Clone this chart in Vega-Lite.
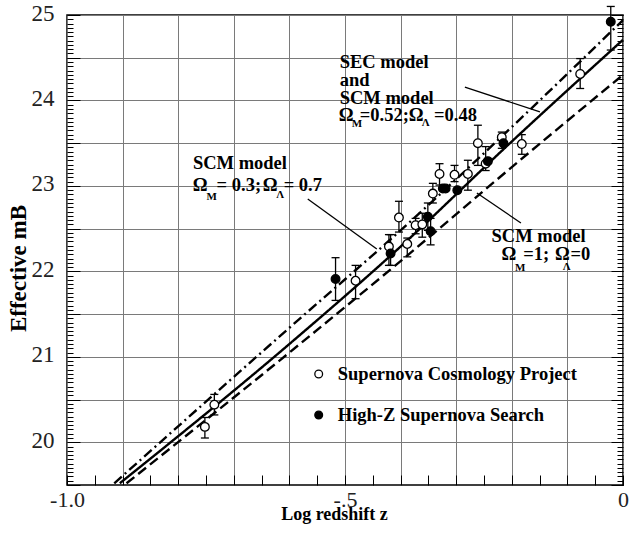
{
  "$schema": "https://vega.github.io/schema/vega-lite/v6.json",
  "width": 556,
  "height": 470,
  "autosize": {"type": "none"},
  "padding": {"left": 67, "top": 15, "right": 8, "bottom": 48},
  "background": "white",
  "config": {
    "view": {"stroke": "black", "strokeWidth": 1.5},
    "axis": {"domain": false, "labelFont": "Liberation Serif", "titleFont": "Liberation Serif", "tickColor": "black", "tickWidth": 1, "labelColor": "#222", "titleColor": "black"}
  },
  "datasets": {
    "models": [
      {"model": "solid", "x": -0.905, "y": 19.52},
      {"model": "solid", "x": -0.6, "y": 21.15},
      {"model": "solid", "x": -0.4, "y": 22.29},
      {"model": "solid", "x": -0.2, "y": 23.52},
      {"model": "solid", "x": 0, "y": 24.71},
      {"model": "dashed", "x": -0.893, "y": 19.52},
      {"model": "dashed", "x": -0.6, "y": 21.05},
      {"model": "dashed", "x": -0.4, "y": 22.12},
      {"model": "dashed", "x": -0.2, "y": 23.22},
      {"model": "dashed", "x": 0, "y": 24.30},
      {"model": "dashdot", "x": -0.915, "y": 19.52},
      {"model": "dashdot", "x": -0.6, "y": 21.34},
      {"model": "dashdot", "x": -0.4, "y": 22.48},
      {"model": "dashdot", "x": -0.2, "y": 23.69},
      {"model": "dashdot", "x": 0, "y": 24.94}
    ],
    "sn": [
      {"series": "SCP", "x": -0.752, "y": 20.18, "lo": 20.05, "hi": 20.29},
      {"series": "SCP", "x": -0.735, "y": 20.44, "lo": 20.32, "hi": 20.56},
      {"series": "HZS", "x": -0.517, "y": 21.91, "lo": 21.66, "hi": 22.16},
      {"series": "SCP", "x": -0.481, "y": 21.89, "lo": 21.68, "hi": 22.07},
      {"series": "SCP", "x": -0.421, "y": 22.29, "lo": 22.07, "hi": 22.43},
      {"series": "HZS", "x": -0.418, "y": 22.21, "lo": 22.07, "hi": 22.43},
      {"series": "SCP", "x": -0.403, "y": 22.63, "lo": 22.46, "hi": 22.82},
      {"series": "SCP", "x": -0.388, "y": 22.32, "lo": 22.17, "hi": 22.39},
      {"series": "SCP", "x": -0.373, "y": 22.54, "lo": 22.44, "hi": 22.62},
      {"series": "SCP", "x": -0.361, "y": 22.55, "lo": 22.40, "hi": 22.68},
      {"series": "HZS", "x": -0.351, "y": 22.64, "lo": 22.48, "hi": 22.80},
      {"series": "HZS", "x": -0.346, "y": 22.47, "lo": 22.31, "hi": 22.62},
      {"series": "SCP", "x": -0.342, "y": 22.91, "lo": 22.80, "hi": 23.03},
      {"series": "SCP", "x": -0.330, "y": 23.14, "lo": 23.01, "hi": 23.26},
      {"series": "HZS", "x": -0.324, "y": 22.97, "lo": null, "hi": null},
      {"series": "HZS", "x": -0.319, "y": 22.97, "lo": null, "hi": null},
      {"series": "SCP", "x": -0.303, "y": 23.13, "lo": 23.05, "hi": 23.24},
      {"series": "HZS", "x": -0.298, "y": 22.95, "lo": null, "hi": null},
      {"series": "SCP", "x": -0.279, "y": 23.14, "lo": 22.95, "hi": 23.30},
      {"series": "SCP", "x": -0.261, "y": 23.50, "lo": 23.24, "hi": 23.71},
      {"series": "SCP", "x": -0.247, "y": 23.26, "lo": 23.18, "hi": 23.46},
      {"series": "HZS", "x": -0.243, "y": 23.29, "lo": null, "hi": null},
      {"series": "SCP", "x": -0.218, "y": 23.57, "lo": 23.44, "hi": 23.63},
      {"series": "HZS", "x": -0.215, "y": 23.50, "lo": null, "hi": null},
      {"series": "SCP", "x": -0.182, "y": 23.49, "lo": 23.37, "hi": 23.60},
      {"series": "SCP", "x": -0.077, "y": 24.31, "lo": 24.14, "hi": 24.49},
      {"series": "HZS", "x": -0.022, "y": 24.92, "lo": 24.59, "hi": 25.10}
    ],
    "legend": [
      {"series": "SCP", "label": "Supernova Cosmology Project", "x": -0.5473, "y": 20.799, "tx": -0.513},
      {"series": "HZS", "label": "High-Z Supernova Search", "x": -0.5473, "y": 20.319, "tx": -0.513}
    ],
    "pointers": [
      {"id": "sec", "x": -0.2844, "y": 24.157},
      {"id": "sec", "x": -0.1494, "y": 23.865},
      {"id": "scm03", "x": -0.567, "y": 22.847},
      {"id": "scm03", "x": -0.4428, "y": 22.262},
      {"id": "scm1", "x": -0.2628, "y": 22.917},
      {"id": "scm1", "x": -0.1836, "y": 22.566}
    ],
    "notes": [
      {"text": "SEC model", "x": -0.5095, "y": 24.45},
      {"text": "and", "x": -0.5095, "y": 24.239},
      {"text": "SCM model", "x": -0.5095, "y": 24.029},
      {"text": "Ω", "x": -0.5113, "y": 23.83},
      {"text": "=0.52;", "x": -0.4734, "y": 23.83},
      {"text": "Ω", "x": -0.3853, "y": 23.83},
      {"text": "=0.48", "x": -0.340, "y": 23.83},
      {"text": "SCM model", "x": -0.7735, "y": 23.264},
      {"text": "Ω", "x": -0.774, "y": 23.011},
      {"text": "= 0.3;", "x": -0.7309, "y": 23.011},
      {"text": "Ω", "x": -0.6481, "y": 23.011},
      {"text": "= 0.7", "x": -0.6103, "y": 23.011},
      {"text": "SCM model", "x": -0.2364, "y": 22.414},
      {"text": "Ω", "x": -0.2184, "y": 22.2},
      {"text": "=1;", "x": -0.1795, "y": 22.2},
      {"text": "Ω", "x": -0.1224, "y": 22.2},
      {"text": "=0", "x": -0.0945, "y": 22.2}
    ],
    "subs": [
      {"text": "M", "x": -0.4878, "y": 23.73},
      {"text": "Λ", "x": -0.3618, "y": 23.74},
      {"text": "M", "x": -0.7489, "y": 22.87},
      {"text": "Λ", "x": -0.6238, "y": 22.89},
      {"text": "M", "x": -0.1944, "y": 22.04},
      {"text": "Λ", "x": -0.1085, "y": 22.05}
    ]
  },
  "resolve": {"axis": {"x": "independent", "y": "independent"}},
  "layer": [
    {
      "data": {"name": "models"},
      "mark": {"type": "line", "strokeWidth": 2.4, "color": "black", "interpolate": "monotone"},
      "encoding": {
        "x": {"field": "x", "type": "quantitative", "scale": {"domain": [-1, 0], "nice": false, "zero": false},
          "axis": {"orient": "bottom", "values": [-1, -0.9, -0.8, -0.7, -0.6, -0.5, -0.4, -0.3, -0.2, -0.1, 0], "grid": true, "gridColor": "#7a7a7a", "gridWidth": 1, "ticks": false,
            "labelExpr": "datum.value == -1 ? '-1.0' : datum.value == -0.5 ? '-.5' : datum.value == 0 ? '0' : ''",
            "labelFontSize": 22, "labelFlush": false, "labelOverlap": false, "labelBound": false, "labelPadding": 21, "labelBaseline": "alphabetic",
            "title": "Log redshift z", "titleFontSize": 18, "titleFontWeight": "bold", "titleX": 267, "titleY": 34, "titleBaseline": "alphabetic"}},
        "y": {"field": "y", "type": "quantitative", "scale": {"domain": [19.5, 25], "nice": false, "zero": false},
          "axis": {"orient": "left", "values": [20, 20.5, 21, 21.5, 22, 22.5, 23, 23.5, 24, 24.5, 25], "grid": true, "gridColor": "#7a7a7a", "gridWidth": 1, "ticks": false,
            "labelExpr": "datum.value % 1 == 0 ? format(datum.value, 'd') : ''", "labelFontSize": 23, "labelPadding": 13, "labelOffset": -2, "labelOverlap": false, "labelBound": false, "labelFlush": false,
            "title": "Effective mB", "titleFontSize": 23, "titleFontWeight": "bold", "titleX": -49, "titleY": 253, "titleBaseline": "middle"}},
        "strokeDash": {"field": "model", "type": "nominal", "scale": {"domain": ["solid", "dashed", "dashdot"], "range": [[1, 0], [10, 5], [10, 4, 2, 4]]}, "legend": null},
        "detail": {"field": "model"}
      }
    },
    {
      "data": {"name": "sn"},
      "transform": [{"filter": "datum.lo != null"}],
      "mark": {"type": "rule", "color": "black", "strokeWidth": 1.3},
      "encoding": {
        "x": {"field": "x", "type": "quantitative", "axis": {"orient": "bottom", "tickCount": 20, "tickSize": -10, "labels": false, "grid": false, "title": null}},
        "y": {"field": "lo", "type": "quantitative", "axis": {"orient": "left", "tickCount": 11, "tickSize": -13, "labels": false, "grid": false, "title": null}},
        "y2": {"field": "hi"}
      }
    },
    {
      "data": {"name": "sn"},
      "transform": [{"filter": "datum.lo != null"}],
      "mark": {"type": "tick", "orient": "horizontal", "size": 8, "thickness": 1.3, "color": "black", "opacity": 1},
      "encoding": {
        "x": {"field": "x", "type": "quantitative", "axis": null},
        "y": {"field": "lo", "type": "quantitative", "axis": {"orient": "left", "tickCount": 110, "tickSize": -6, "labels": false, "grid": false, "title": null}}
      }
    },
    {
      "data": {"name": "sn"},
      "transform": [{"filter": "datum.lo != null"}],
      "mark": {"type": "tick", "orient": "horizontal", "size": 8, "thickness": 1.3, "color": "black", "opacity": 1},
      "encoding": {
        "x": {"field": "x", "type": "quantitative", "axis": null},
        "y": {"field": "hi", "type": "quantitative", "axis": {"orient": "right", "tickCount": 11, "tickSize": -12, "labels": false, "grid": false, "title": null}}
      }
    },
    {
      "data": {"name": "sn"},
      "mark": {"type": "point", "shape": "circle", "filled": true, "size": 75, "stroke": "black", "strokeWidth": 1.3, "opacity": 1},
      "encoding": {
        "x": {"field": "x", "type": "quantitative", "axis": null},
        "y": {"field": "y", "type": "quantitative", "axis": {"orient": "right", "tickCount": 110, "tickSize": -6, "labels": false, "grid": false, "title": null}},
        "fill": {"field": "series", "type": "nominal", "scale": {"domain": ["SCP", "HZS"], "range": ["white", "black"]}, "legend": null}
      }
    },
    {
      "data": {"name": "legend"},
      "mark": {"type": "point", "shape": "circle", "filled": true, "size": 60, "stroke": "black", "strokeWidth": 1.3, "opacity": 1},
      "encoding": {
        "x": {"field": "x", "type": "quantitative", "axis": null},
        "y": {"field": "y", "type": "quantitative", "axis": null},
        "fill": {"field": "series", "type": "nominal", "scale": {"domain": ["SCP", "HZS"], "range": ["white", "black"]}, "legend": null}
      }
    },
    {
      "data": {"name": "legend"},
      "mark": {"type": "text", "align": "left", "baseline": "middle", "font": "Liberation Serif", "fontWeight": "bold", "fontSize": 18.5, "color": "black"},
      "encoding": {
        "x": {"field": "tx", "type": "quantitative", "axis": null},
        "y": {"field": "y", "type": "quantitative", "axis": null},
        "text": {"field": "label"}
      }
    },
    {
      "data": {"name": "pointers"},
      "mark": {"type": "line", "color": "black", "strokeWidth": 1.3},
      "encoding": {
        "x": {"field": "x", "type": "quantitative", "axis": null},
        "y": {"field": "y", "type": "quantitative", "axis": null},
        "detail": {"field": "id"}
      }
    },
    {
      "data": {"name": "notes"},
      "mark": {"type": "text", "align": "left", "baseline": "middle", "font": "Liberation Serif", "fontWeight": "bold", "fontSize": 18.5, "color": "black"},
      "encoding": {
        "x": {"field": "x", "type": "quantitative", "axis": null},
        "y": {"field": "y", "type": "quantitative", "axis": null},
        "text": {"field": "text"}
      }
    },
    {
      "data": {"name": "subs"},
      "mark": {"type": "text", "align": "left", "baseline": "middle", "font": "Liberation Serif", "fontWeight": "bold", "fontSize": 11, "color": "black"},
      "encoding": {
        "x": {"field": "x", "type": "quantitative", "axis": null},
        "y": {"field": "y", "type": "quantitative", "axis": null},
        "text": {"field": "text"}
      }
    }
  ]
}
